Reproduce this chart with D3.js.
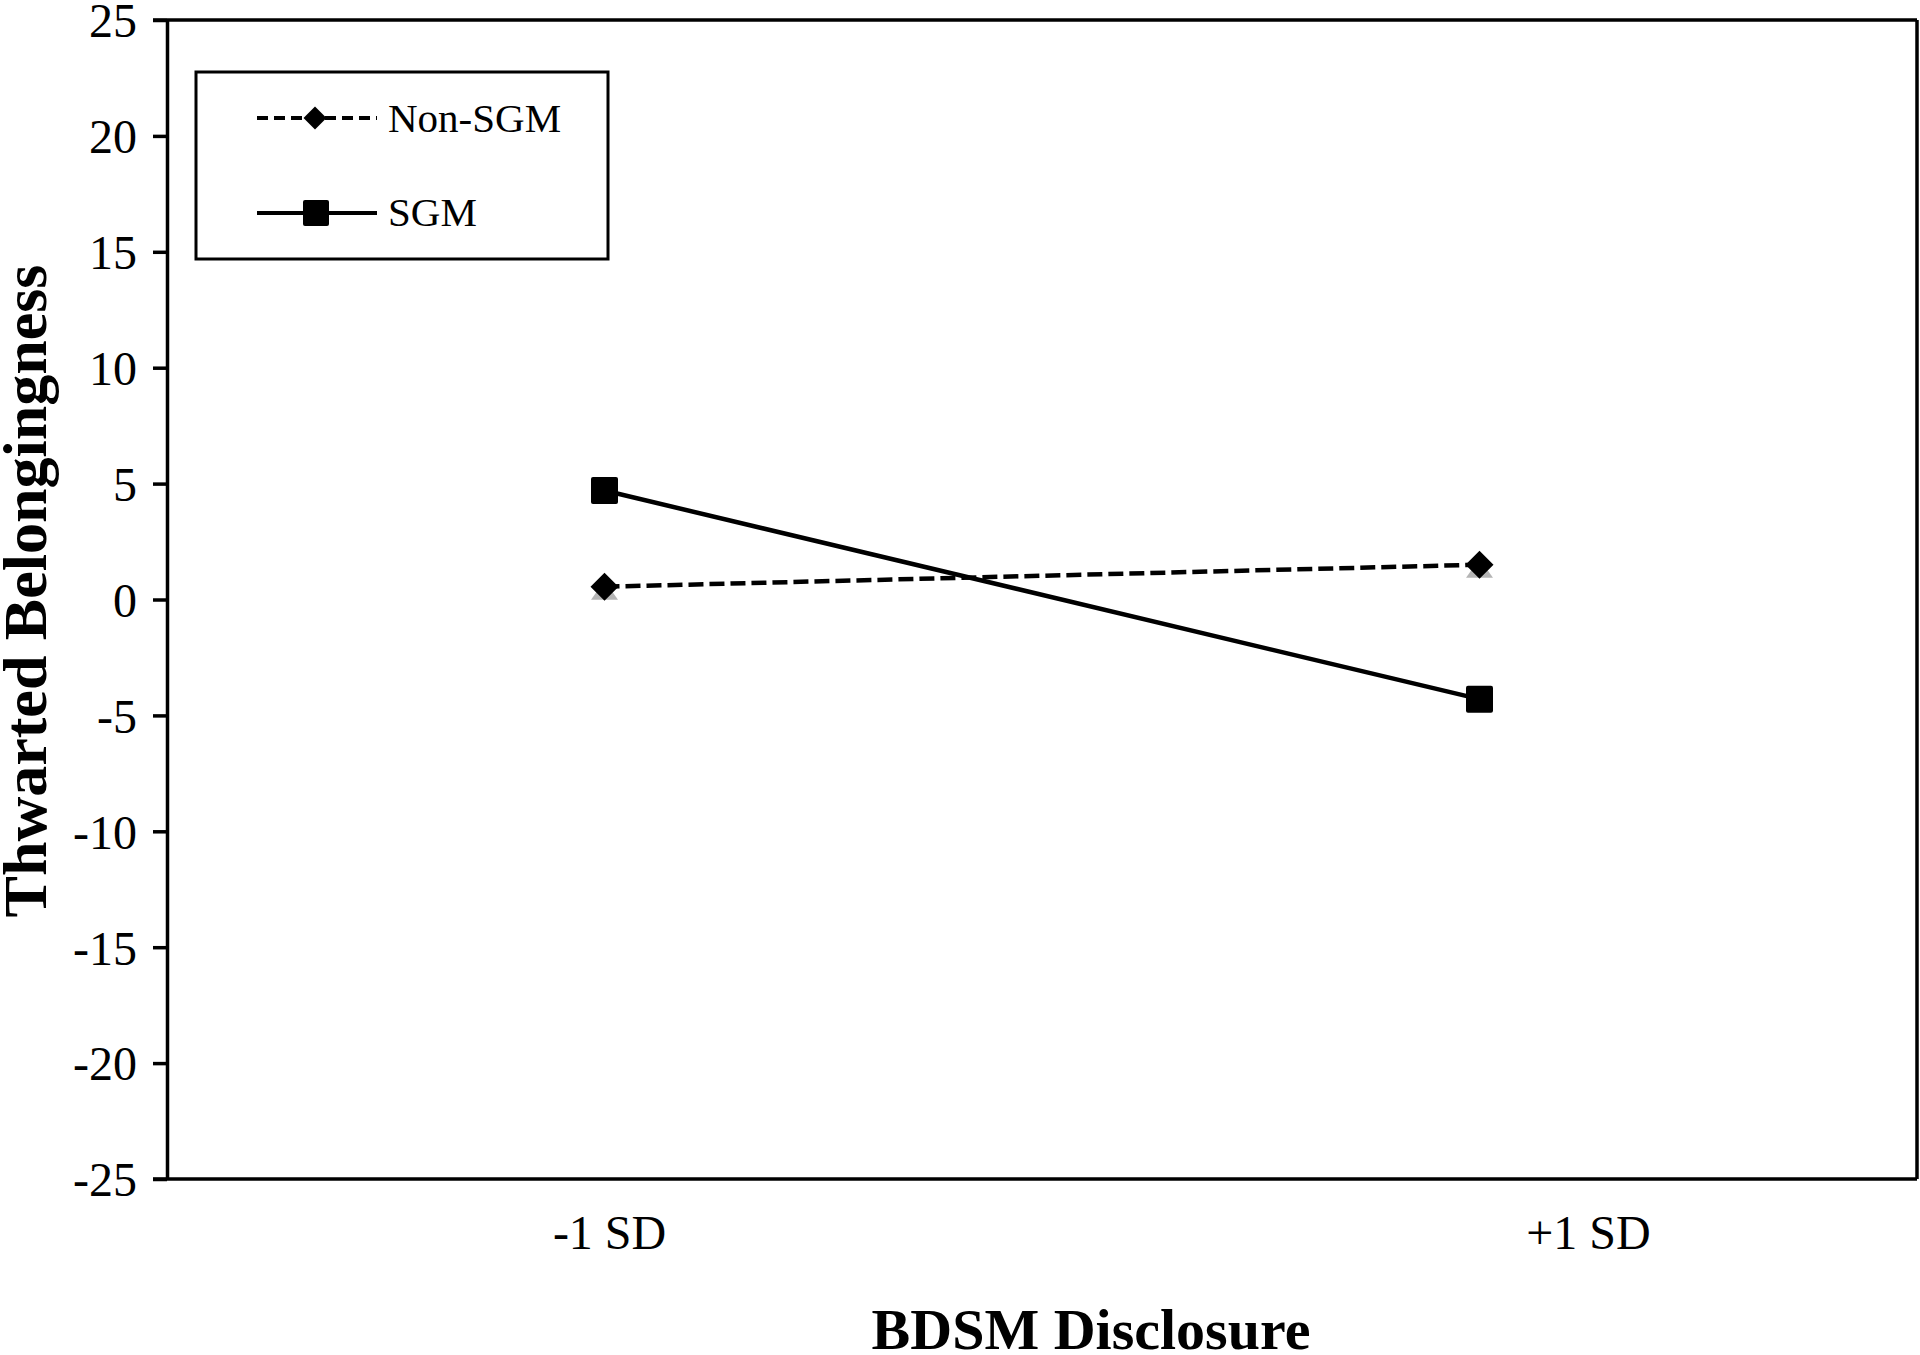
<!DOCTYPE html>
<html>
<head>
<meta charset="utf-8">
<script src="https://cdn.jsdelivr.net/npm/d3@7"></script>
<style>
  html, body { margin: 0; padding: 0; background: #fff; }
  svg { display: block; }
  text { font-family: "Liberation Serif", "Times New Roman", serif; fill: #000; }
</style>
</head>
<body>
<svg id="chart" width="1920" height="1355"></svg>
<script>
const categories = ["-1 SD", "+1 SD"];
const nonSGM = [0.55, 1.5];
const sgm = [4.7, -4.3];
const yTicks = [-25, -20, -15, -10, -5, 0, 5, 10, 15, 20, 25];
const seriesNames = ["Non-SGM", "SGM"];

const svg = d3.select("#chart");
const L = 167, R = 1917, T = 20, B = 1179;

const x = d3.scalePoint().domain(categories).range([L, R]).padding(0.5);
// category labels sit slightly offset from the points in the original
const xLab = d3.scalePoint().domain(categories)
  .range([L + 0.2526 * (R - L), L + 0.812 * (R - L)]);
const y = d3.scaleLinear().domain([-25, 25]).range([B, T]);

// Frame (top and right)
svg.append("line").attr("x1", L - 14).attr("x2", R).attr("y1", T).attr("y2", T)
  .attr("stroke", "#000").attr("stroke-width", 3.5);
svg.append("line").attr("x1", R).attr("x2", R).attr("y1", T).attr("y2", B)
  .attr("stroke", "#000").attr("stroke-width", 3.5);

// Y axis
const yAxis = svg.append("g").attr("transform", `translate(${L},0)`)
  .call(d3.axisLeft(y).tickValues(yTicks).tickFormat(d => String(d))
    .tickSize(14).tickSizeOuter(0).tickPadding(16));
yAxis.select(".domain").attr("stroke", "#000").attr("stroke-width", 3.5);
yAxis.selectAll(".tick line").attr("stroke", "#000").attr("stroke-width", 3.5);
yAxis.selectAll(".tick text")
  .style("font-family", '"Liberation Serif", "Times New Roman", serif')
  .style("font-size", "48px").attr("fill", "#000").attr("dy", "0.35em");

// X axis (bottom)
const xAxis = svg.append("g").attr("transform", `translate(0,${B})`)
  .call(d3.axisBottom(xLab).tickSize(0).tickSizeOuter(0).tickPadding(36));
xAxis.select(".domain").remove();
svg.append("line").attr("x1", L - 14).attr("x2", R).attr("y1", B).attr("y2", B)
  .attr("stroke", "#000").attr("stroke-width", 3.5);
xAxis.selectAll(".tick text")
  .style("font-family", '"Liberation Serif", "Times New Roman", serif')
  .style("font-size", "48px").attr("fill", "#000").attr("dy", "0.71em");

// Lines
const line = d3.line().x((d, i) => x(categories[i])).y(d => y(d));
svg.append("path").datum(nonSGM).attr("d", line).attr("fill", "none")
  .attr("stroke", "#000").attr("stroke-width", 4.5).attr("stroke-dasharray", "15,6");
svg.append("path").datum(sgm).attr("d", line).attr("fill", "none")
  .attr("stroke", "#000").attr("stroke-width", 4.5);

// Markers
const diamond = (cx, cy, s) => `M${cx},${cy - s}L${cx + s},${cy}L${cx},${cy + s}L${cx - s},${cy}Z`;
const tri = (cx, cy, w, h) => `M${cx},${cy - h}L${cx + w / 2},${cy + 13}L${cx - w / 2},${cy + 13}Z`;

svg.selectAll(".shadow").data(nonSGM).enter().append("path")
  .attr("d", (d, i) => tri(x(categories[i]), y(d), 27, 6))
  .attr("fill", "#b5b5b5");
svg.selectAll(".dia").data(nonSGM).enter().append("path")
  .attr("d", (d, i) => diamond(x(categories[i]), y(d), 14))
  .attr("fill", "#000");
svg.selectAll(".sq").data(sgm).enter().append("rect")
  .attr("x", (d, i) => x(categories[i]) - 13.5)
  .attr("y", d => y(d) - 13.5)
  .attr("width", 27).attr("height", 27).attr("rx", 2)
  .attr("fill", "#000");

// Legend
const lg = svg.append("g");
lg.append("rect").attr("x", 196).attr("y", 72).attr("width", 412).attr("height", 187)
  .attr("fill", "#fff").attr("stroke", "#000").attr("stroke-width", 3);
lg.append("line").attr("x1", 257).attr("x2", 377).attr("y1", 118).attr("y2", 118)
  .attr("stroke", "#000").attr("stroke-width", 4).attr("stroke-dasharray", "11,6");
lg.append("path").attr("d", diamond(315, 118, 11.5)).attr("fill", "#000");
lg.append("text").attr("x", 388).attr("y", 132).style("font-size", "41px").text(seriesNames[0]);
lg.append("line").attr("x1", 257).attr("x2", 377).attr("y1", 213).attr("y2", 213)
  .attr("stroke", "#000").attr("stroke-width", 4);
lg.append("rect").attr("x", 303).attr("y", 200).attr("width", 26).attr("height", 26).attr("rx", 2)
  .attr("fill", "#000");
lg.append("text").attr("x", 388).attr("y", 226).style("font-size", "41px").text(seriesNames[1]);

// Axis titles
svg.append("text").attr("transform", "translate(46,591) rotate(-90)")
  .attr("text-anchor", "middle").style("font-size", "62px").style("font-weight", "bold")
  .text("Thwarted Belongingness");
svg.append("text").attr("x", 1091).attr("y", 1349)
  .attr("text-anchor", "middle").style("font-size", "58px").style("font-weight", "bold")
  .text("BDSM Disclosure");
</script>
</body>
</html>
